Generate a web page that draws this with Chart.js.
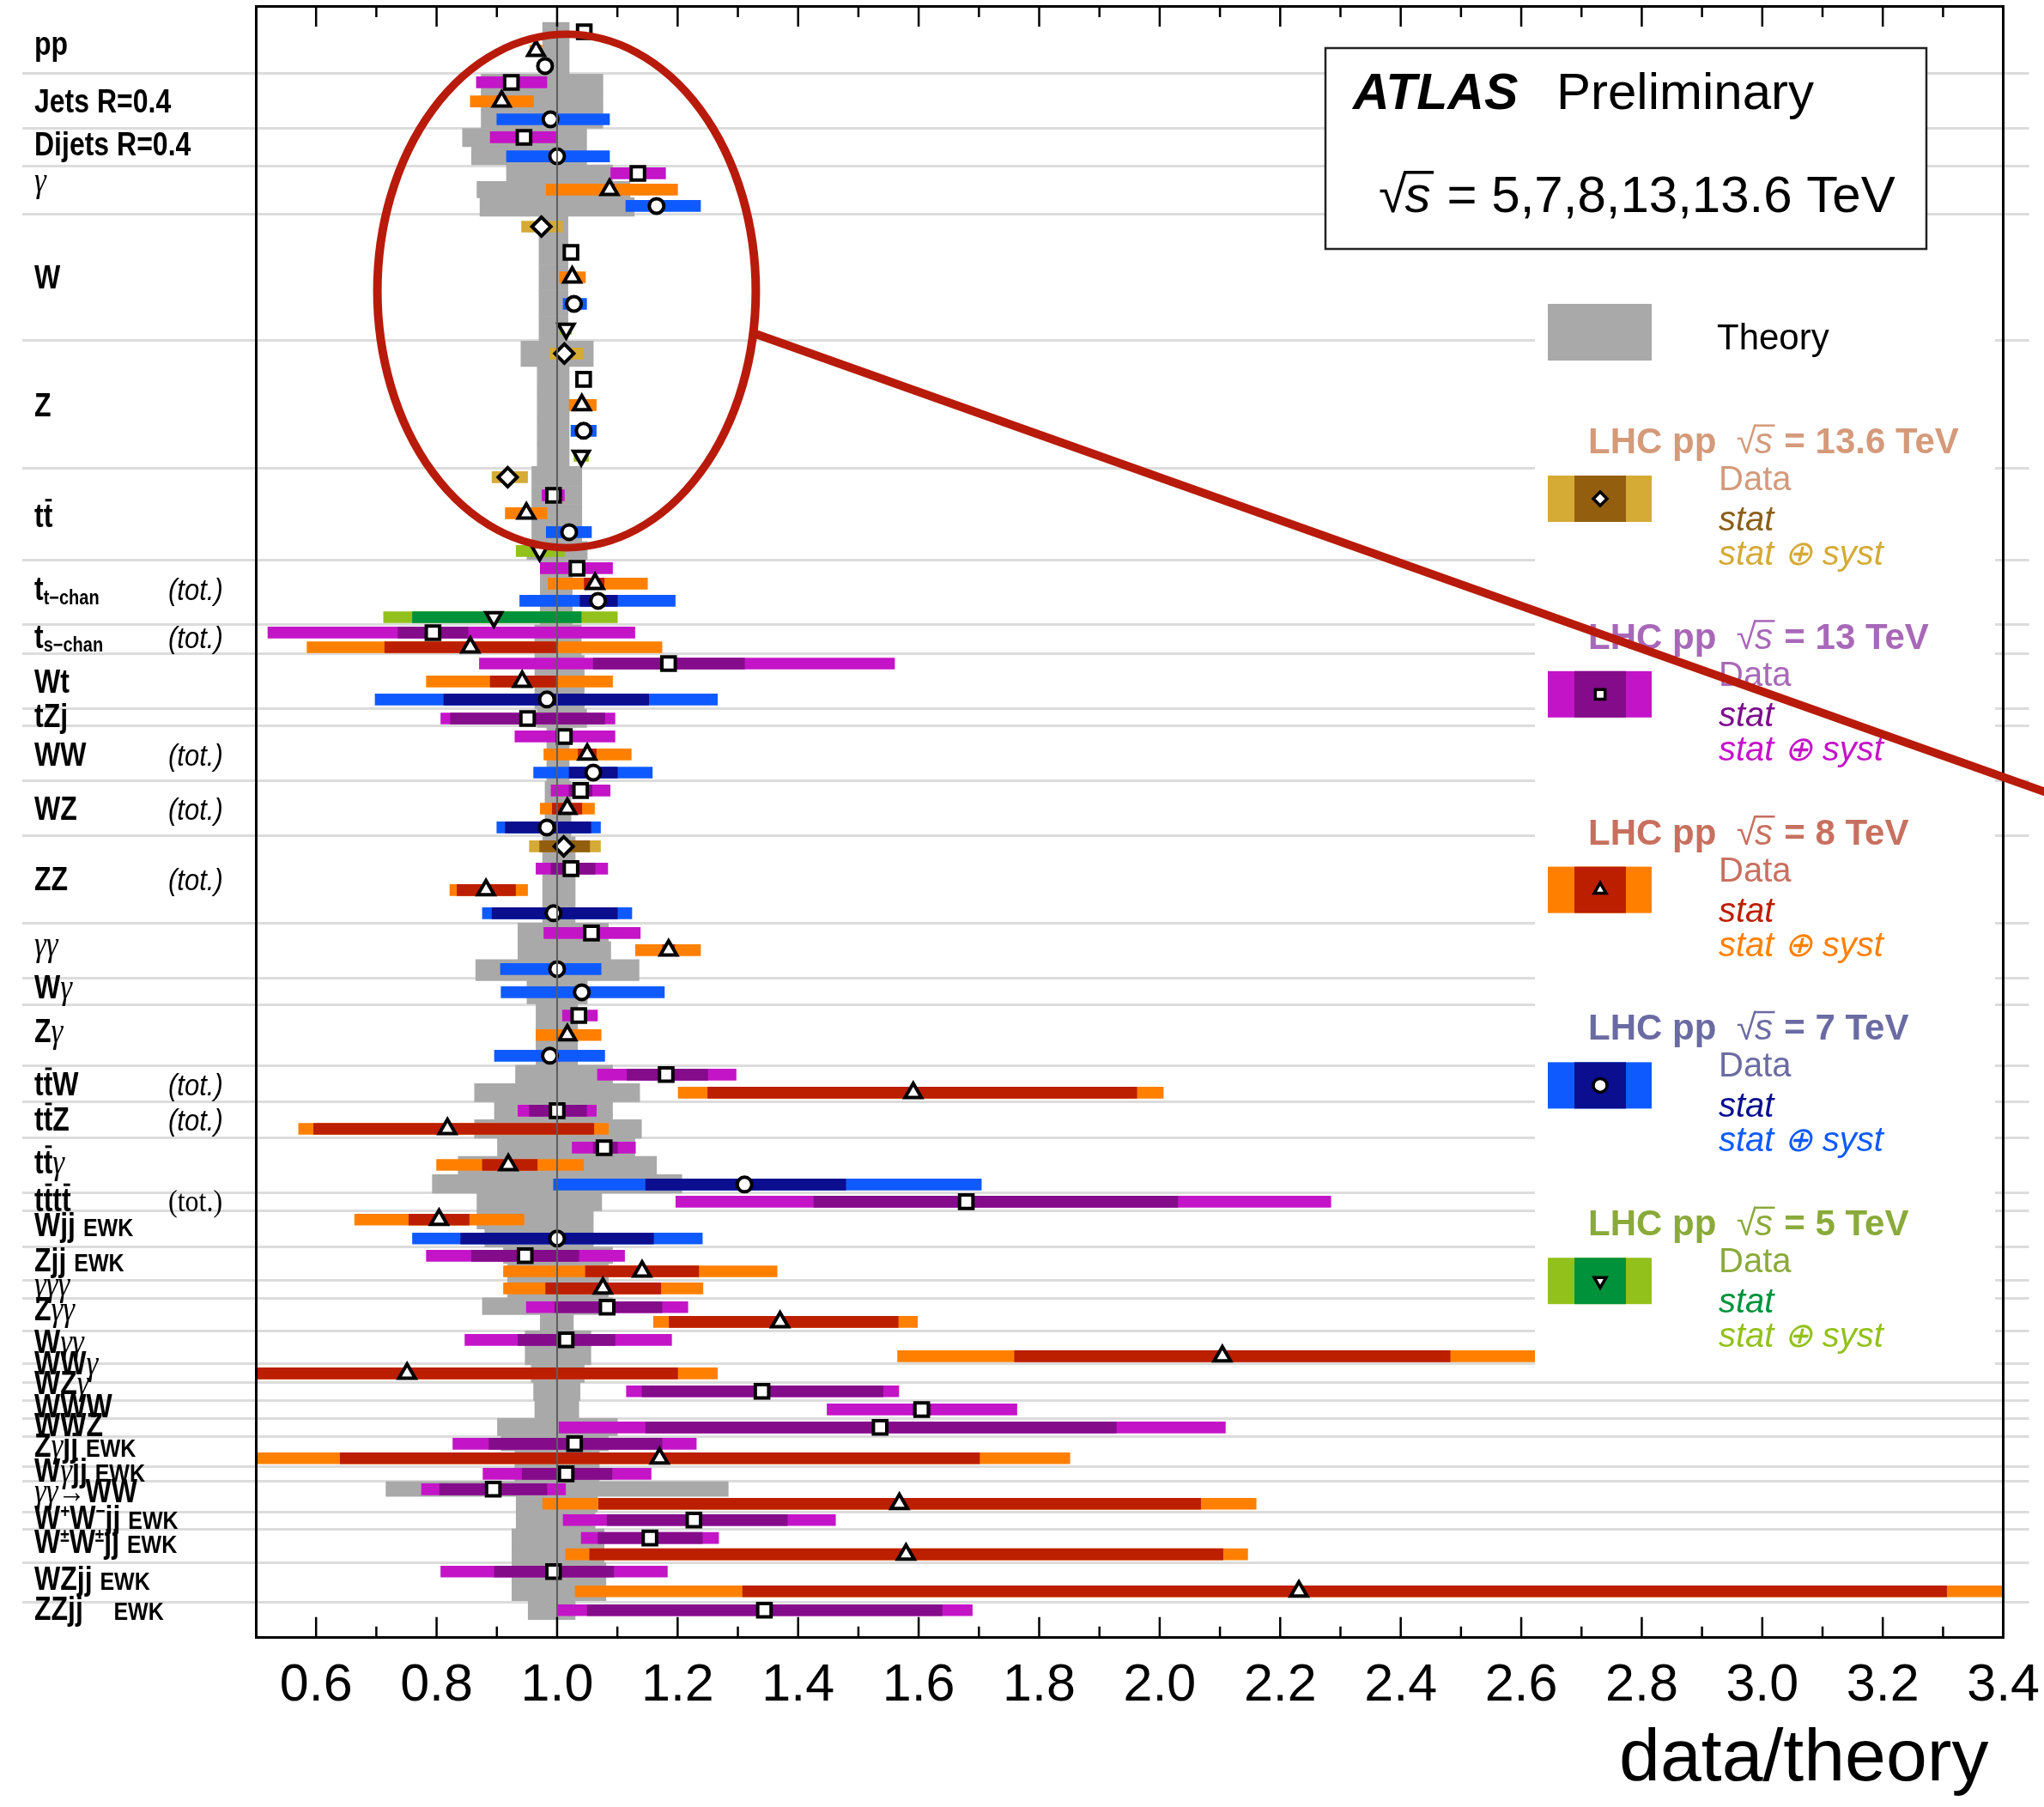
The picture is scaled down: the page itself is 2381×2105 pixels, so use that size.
<!DOCTYPE html>
<html>
<head>
<meta charset="utf-8">
<title>data/theory</title>
<script src="https://cdn.jsdelivr.net/npm/chart.js"></script>
<style>
  html, body { margin: 0; padding: 0; background: #fff; }
</style>
</head>
<body>
<canvas id="summary" width="2381" height="2105"></canvas>
<script>
// vertical position of every measurement row, in row units (0 = top frame, 90 = bottom frame)
const rowY = [
  1.42, 2.46, 3.31, 4.21, 5.26, 6.25, 7.24, 8.29, 9.23, 10.13, 11.03,
  12.17, 13.59, 14.96, 16.43, 17.80,
  19.17, 20.59, 22.01, 23.43, 24.81,
  25.99, 26.99, 27.98, 29.02, 30.06,
  31.01, 31.86, 32.81, 33.71,
  34.56, 35.37,
  36.27, 37.26, 38.25,
  39.30,
  40.29, 41.28, 42.28,
  43.27, 44.27, 45.31,
  46.35, 47.58, 48.76, 50.04,
  51.13, 52.08, 53.12,
  54.40,
  55.68, 56.76, 57.90,
  58.94, 59.94,
  60.93, 61.93,
  62.97, 63.92, 65.00,
  65.95,
  66.94, 67.98,
  68.93, 69.79,
  70.73,
  71.77, 72.58,
  73.57, 74.47,
  75.42,
  76.41,
  77.41,
  78.40,
  79.30, 80.10,
  80.96,
  81.81, 82.61,
  83.51,
  84.50, 85.40,
  86.35, 87.44,
  88.48
];

// theory uncertainty band for each row (data/theory = 1 is the prediction)
const theoryBand = [
  [0.976, 1.02], [0.976, 1.02], [0.976, 1.02],
  [0.874, 1.076], [0.874, 1.076], [0.874, 1.076],
  [0.843, 1.049], [0.858, 1.049],
  [0.916, 1.092], [0.867, 1.121], [0.872, 1.128],
  [0.97, 1.018], [0.97, 1.018], [0.97, 1.018], [0.97, 1.018], [0.97, 1.018],
  [0.94, 1.06], [0.967, 1.02], [0.967, 1.02], [0.967, 1.02], [0.967, 1.02],
  [0.958, 1.041], [0.958, 1.041], [0.958, 1.041], [0.958, 1.041], [0.95, 1.05],
  [0.972, 1.025], [0.972, 1.025], [0.972, 1.025], [0.972, 1.025],
  [0.963, 1.04], [0.963, 1.04],
  [0.963, 1.045], [0.963, 1.045], [0.963, 1.045],
  [0.967, 1.049],
  [0.983, 1.02], [0.983, 1.02], [0.983, 1.02],
  [0.98, 1.023], [0.98, 1.023], [0.98, 1.023],
  [0.976, 1.03], [0.976, 1.03], [0.976, 1.03], [0.976, 1.03],
  [0.935, 1.085], [0.935, 1.089], [0.865, 1.136],
  [0.95, 1.05],
  [0.965, 1.034], [0.965, 1.034], [0.965, 1.034],
  [0.931, 1.092], [0.863, 1.137],
  [0.896, 1.092], [0.863, 1.14],
  [0.901, 1.129], [0.836, 1.165], [0.793, 1.207],
  [0.867, 1.074],
  [0.867, 1.06], [0.88, 1.06],
  [0.911, 1.092], [0.918, 1.085],
  [0.918, 1.085],
  [0.876, 1.092], [0.972, 1.027],
  [0.947, 1.056], [0.947, 1.056],
  [0.957, 1.045],
  [0.961, 1.038],
  [0.963, 1.036],
  [0.901, 1.1],
  [0.907, 1.085], [0.93, 1.07],
  [0.93, 1.07],
  [0.716, 1.284], [0.932, 1.067],
  [0.932, 1.063],
  [0.925, 1.078], [0.925, 1.078],
  [0.925, 1.081], [0.925, 1.081],
  [0.952, 1.03]
];

// lines between the processes
const separators = [
  3.74, 6.77, 8.81, 11.50, 18.46, 25.52, 30.58, 34.13, 35.73, 38.77, 39.72,
  42.75, 45.77, 50.61, 53.64, 55.11, 58.45, 60.46, 62.45, 65.48, 66.47, 68.46,
  70.29, 71.28, 73.10, 74.90, 75.94, 76.94, 77.91, 78.91, 80.54, 81.39, 83.09,
  84.04, 85.88, 88.06
];

// process names, with the row position of their baseline
const processLabels = [
  ['pp', 2.68], ['Jets R=0.4', 5.87], ['Dijets R=0.4', 8.24], ['#gamma', 10.23],
  ['W', 15.58], ['Z', 22.63], ['t#bar{t}', 28.72],
  ['t_{t\u2212chan}', 32.76, '(tot.)'], ['t_{s\u2212chan}', 35.40, '(tot.)'],
  ['Wt', 37.88], ['tZj', 39.75], ['WW', 41.90, '(tot.)'], ['WZ', 44.87, '(tot.)'],
  ['ZZ', 48.77, '(tot.)'], ['#gamma#gamma', 52.36], ['W#gamma', 54.73], ['Z#gamma', 57.15],
  ['t#bar{t}W', 60.08, '(tot.)'], ['t#bar{t}Z', 62.02, '(tot.)'], ['t#bar{t}#gamma', 64.38],
  ['t#bar{t}t#bar{t}', 66.48, '(tot.)', 'serif'],
  ['Wjj #small{EWK}', 67.87], ['Zjj #small{EWK}', 69.77], ['#gamma#gamma#gamma', 71.11],
  ['Z#gamma#gamma', 72.48], ['W#gamma#gamma', 74.27], ['WW#gamma', 75.47], ['WZ#gamma', 76.56],
  ['WWW', 77.84], ['WWZ', 78.88], ['Z#gammajj #small{EWK}', 80.02], ['W#gammajj #small{EWK}', 81.39],
  ['#gamma#gamma#rightarrowWW', 82.52], ['W^{+}W^{\u2212}jj #small{EWK}', 83.99],
  ['W^{\u00b1}W^{\u00b1}jj #small{EWK}', 85.32], ['WZjj #small{EWK}', 87.36], ['ZZjj    #small{EWK}', 89.01]
];

// sqrt(s) = 13.6 TeV
const rows136 = [11, 16, 21, 42];
const val136 = [0.974, 1.012, 0.918, 1.011];
const stat136 = [[0.969, 0.979], [1.006, 1.018], [0.913, 0.923], [0.971, 1.054]];
const tot136 = [[0.941, 1.009], [0.988, 1.044], [0.892, 0.951], [0.954, 1.072]];

// sqrt(s) = 13 TeV
const rows13 = [0, 3, 6, 8, 12, 17, 22, 26, 30, 32, 35, 36, 39, 43, 46, 50, 53, 55, 57, 60,
  63, 66, 68, 71, 72, 73, 74, 76, 77, 79, 80, 82, 84];
const val13 = [1.045, 0.924, 0.945, 1.134, 1.023, 1.044, 0.994, 1.033, 0.794, 1.185, 0.951,
  1.012, 1.039, 1.023, 1.057, 1.036, 1.181, 1.0, 1.078, 1.679, 0.947, 1.083, 1.015, 1.34,
  1.605, 1.536, 1.029, 1.015, 0.894, 1.227, 1.154, 0.994, 1.344];
const stat13 = [[1.04, 1.05], [0.92, 0.93], [0.94, 0.95], [1.13, 1.138], [1.02, 1.026],
  [1.04, 1.048], [0.99, 0.998], [1.02, 1.045], [0.736, 0.852], [1.06, 1.311], [0.823, 1.079],
  [1.0, 1.025], [1.02, 1.058], [0.99, 1.063], [1.045, 1.07], [1.03, 1.042], [1.116, 1.25],
  [0.954, 1.049], [1.06, 1.1], [1.426, 2.03], [0.858, 1.036], [0.996, 1.174], [0.935, 1.096],
  [1.141, 1.541], [1.59, 1.62], [1.147, 1.928], [0.887, 1.174], [0.942, 1.091], [0.805, 0.983],
  [1.083, 1.382], [1.068, 1.241], [0.896, 1.094], [1.05, 1.639]];
const tot13 = [[1.035, 1.055], [0.866, 0.983], [0.889, 0.998], [1.089, 1.18], [1.013, 1.033],
  [1.034, 1.054], [0.975, 1.012], [0.972, 1.092], [0.52, 1.129], [0.871, 1.56], [0.807, 1.096],
  [0.93, 1.096], [0.99, 1.088], [0.965, 1.084], [0.978, 1.138], [1.009, 1.067], [1.067, 1.297],
  [0.935, 1.065], [1.025, 1.13], [1.197, 2.284], [0.783, 1.112], [0.949, 1.217], [0.847, 1.19],
  [1.115, 1.567], [1.448, 1.763], [1.003, 2.109], [0.827, 1.231], [0.877, 1.156], [0.775, 1.014],
  [1.01, 1.462], [1.04, 1.268], [0.807, 1.183], [1.001, 1.689]];

// sqrt(s) = 8 TeV
const rows8 = [1, 4, 9, 13, 18, 23, 27, 31, 33, 37, 40, 44, 47, 51, 54, 56, 58, 61, 64, 65,
  67, 69, 70, 75, 78, 81, 83];
const val8 = [0.965, 0.908, 1.087, 1.025, 1.041, 0.949, 1.063, 0.856, 0.942, 1.05, 1.017,
  0.882, 1.185, 1.017, 1.591, 0.818, 0.919, 0.804, 1.141, 1.076, 1.37, 2.104, 0.751, 1.17,
  1.568, 1.579, 2.231];
const stat8 = [[0.96, 0.97], [0.9, 0.915], [1.08, 1.095], [1.02, 1.03], [1.036, 1.046],
  [0.945, 0.953], [1.045, 1.078], [0.714, 1.0], [0.889, 0.998], [1.035, 1.065], [0.992, 1.041],
  [0.834, 0.931], [1.175, 1.195], [1.01, 1.024], [1.25, 1.962], [0.596, 1.061], [0.876, 0.967],
  [0.754, 0.854], [1.047, 1.235], [0.981, 1.172], [1.186, 1.566], [1.759, 2.482], [0.3, 1.2],
  [0.64, 1.701], [1.069, 2.068], [1.054, 2.105], [1.308, 3.306]];
const tot8 = [[0.955, 0.975], [0.856, 0.961], [0.982, 1.2], [1.004, 1.047], [1.02, 1.065],
  [0.914, 0.983], [0.985, 1.15], [0.585, 1.174], [0.783, 1.092], [0.978, 1.123], [0.972, 1.062],
  [0.822, 0.951], [1.13, 1.238], [0.965, 1.073], [1.201, 2.006], [0.571, 1.085], [0.8, 1.044],
  [0.664, 0.945], [0.911, 1.365], [0.911, 1.242], [1.16, 1.598], [1.565, 2.7], [0.2, 1.266],
  [0.45, 1.851], [0.976, 2.16], [1.014, 2.146], [1.03, 3.6]];

// sqrt(s) = 7 TeV
const rows7 = [2, 5, 7, 10, 14, 19, 24, 28, 34, 38, 41, 45, 48, 49, 52, 59, 62];
const val7 = [0.98, 0.989, 1.0, 1.165, 1.028, 1.044, 1.02, 1.068, 0.983, 1.06, 0.983, 0.994,
  1.0, 1.041, 0.988, 1.311, 1.0];
const stat7 = [[0.975, 0.985], [0.985, 0.993], [0.996, 1.004], [1.16, 1.17], [1.024, 1.032],
  [1.04, 1.048], [1.015, 1.025], [1.038, 1.1], [0.812, 1.152], [1.02, 1.1], [0.914, 1.056],
  [0.892, 1.1], [0.995, 1.005], [1.035, 1.047], [0.983, 0.993], [1.147, 1.479], [0.84, 1.16]];
const tot7 = [[0.97, 0.99], [0.9, 1.087], [0.916, 1.087], [1.114, 1.238], [1.01, 1.049],
  [1.023, 1.065], [0.982, 1.057], [0.938, 1.196], [0.698, 1.266], [0.961, 1.158], [0.9, 1.072],
  [0.876, 1.124], [0.906, 1.073], [0.907, 1.178], [0.896, 1.079], [0.994, 1.704], [0.76, 1.241]];

// sqrt(s) = 5 TeV
const rows5 = [15, 20, 25, 29];
const val5 = [1.015, 1.04, 0.971, 0.895];
const stat5 = [[1.012, 1.018], [1.036, 1.044], [0.965, 0.977], [0.76, 1.04]];
const tot5 = [[1.005, 1.024], [1.028, 1.052], [0.932, 1.012], [0.712, 1.1]];

const energies = [
  { name: '13.6', rows: rows136, val: val136, stat: stat136, tot: tot136,
    syst: '#d5aa35', statC: '#935f0f', text: '#d49a7a', statText: '#8b5e17', point: 'rectRot', rot: 0, r: 11 },
  { name: '13', rows: rows13, val: val13, stat: stat13, tot: tot13,
    syst: '#c414c8', statC: '#840c8a', text: '#a868b8', statText: '#7c0c8c', point: 'rect', rot: 0, r: 11 },
  { name: '8', rows: rows8, val: val8, stat: stat8, tot: tot8,
    syst: '#ff8000', statC: '#bc1e00', text: '#c8705f', statText: '#bc1e00', point: 'triangle', rot: 0, r: 11 },
  { name: '7', rows: rows7, val: val7, stat: stat7, tot: tot7,
    syst: '#0f5aff', statC: '#0a0e8f', text: '#6b6ba3', statText: '#0a0e8f', point: 'circle', rot: 0, r: 8.5 },
  { name: '5', rows: rows5, val: val5, stat: stat5, tot: tot5,
    syst: '#93c11b', statC: '#00923a', text: '#8aaa3a', statText: '#00923a', point: 'triangle', rot: 180, r: 10.5 }
];

const SANS = '"Liberation Sans", Arial, sans-serif';
const SERIF = '"Liberation Serif", "Times New Roman", serif';

const datasets = [];
// data/theory = 1 reference line
datasets.push({
  type: 'line', data: [{ x: 1, y: 0 }, { x: 1, y: 90 }],
  borderColor: '#5e5e5e', borderWidth: 2, pointRadius: 0, order: -1
});
// theory bands, one step per row
datasets.push({
  type: 'bar', data: rowY.map((y, i) => ({ y: y, x: theoryBand[i] })),
  backgroundColor: '#a9a9a9', grouped: true, barThickness: 'flex',
  categoryPercentage: 1, barPercentage: 1, order: 100
});
energies.forEach(e => {
  datasets.push({
    type: 'bar', data: e.rows.map((r, i) => ({ y: rowY[r], x: e.tot[i] })),
    backgroundColor: e.syst, grouped: false, barThickness: 13, order: 20
  });
  datasets.push({
    type: 'bar', data: e.rows.map((r, i) => ({ y: rowY[r], x: e.stat[i] })),
    backgroundColor: e.statC, grouped: false, barThickness: 13, order: 10
  });
  datasets.push({
    type: 'scatter', data: e.rows.map((r, i) => ({ y: rowY[r], x: e.val[i] })),
    pointStyle: e.point, pointRotation: e.rot, pointRadius: e.r,
    pointBackgroundColor: '#fff', pointBorderColor: '#000', pointBorderWidth: 4, order: 0
  });
});

function parseLabel(s) {
  const segs = [];
  const re = /#gamma|#rightarrow|#bar\{([^}]*)\}|_\{([^}]*)\}|\^\{([^}]*)\}|#small\{([^}]*)\}|([^#_^]+)/g;
  let m;
  while ((m = re.exec(s))) {
    if (m[0] === '#gamma') segs.push({ t: '\u03b3', k: 'gam' });
    else if (m[0] === '#rightarrow') segs.push({ t: '\u2192', k: 'n' });
    else if (m[1] !== undefined) segs.push({ t: m[1], k: 'bar' });
    else if (m[2] !== undefined) segs.push({ t: m[2], k: 'sub' });
    else if (m[3] !== undefined) segs.push({ t: m[3], k: 'sup' });
    else if (m[4] !== undefined) segs.push({ t: m[4], k: 'small' });
    else segs.push({ t: m[5], k: 'n' });
  }
  return segs;
}

// labels are drawn a little taller than wide, like the original lettering
function drawLabel(ctx, str, x, y) {
  ctx.save();
  ctx.translate(x, y);
  ctx.scale(1, 1.2);
  let cx = 0;
  for (const seg of parseLabel(str)) {
    let font = 'bold 32px ' + SANS, dy = 0;
    if (seg.k === 'gam') font = 'italic 35px ' + SERIF;
    if (seg.k === 'sub') { font = 'bold 20px ' + SANS; dy = 4; }
    if (seg.k === 'sup') { font = 'bold 19px ' + SANS; dy = -11; }
    if (seg.k === 'small') font = 'bold 25px ' + SANS;
    ctx.font = font;
    ctx.fillText(seg.t, cx, dy);
    const w = ctx.measureText(seg.t).width;
    if (seg.k === 'bar') ctx.fillRect(cx + 2, -27, w - 3, 2.5);
    cx += w;
  }
  ctx.restore();
}

// text with a sqrt(s) in it: parts are [text, font] or ['ROOT', size]
function drawRich(ctx, x, y, parts) {
  let cx = x;
  parts.forEach(p => {
    if (p[0] === 'ROOT') {
      const size = p[1];
      ctx.font = size + 'px ' + SANS;
      ctx.fillText('\u221a', cx, y);
      const w = ctx.measureText('\u221a').width;
      ctx.font = 'italic ' + size + 'px ' + SANS;
      ctx.fillText('s', cx + w - size * 0.04, y);
      const ws = ctx.measureText('s').width;
      ctx.fillRect(cx + w - size * 0.06, y - size * 0.8, ws + size * 0.08, size * 0.06);
      cx += w + ws;
    } else {
      ctx.font = p[1];
      ctx.fillText(p[0], cx, y);
      cx += ctx.measureText(p[0]).width;
    }
  });
  return cx - x;
}

const overlay = {
  id: 'overlay',
  afterDatasetsDraw(chart) {
    const ctx = chart.ctx;
    ctx.save();
    ctx.textBaseline = 'alphabetic';
    ctx.textAlign = 'left';

    // legend panel hides the separator lines behind it
    ctx.fillStyle = '#fff';
    ctx.fillRect(1788, 300, 536, 1300);

    // ATLAS box
    ctx.fillRect(1544, 56, 700, 234);
    ctx.strokeStyle = '#222';
    ctx.lineWidth = 2.5;
    ctx.strokeRect(1544, 56, 700, 234);
    ctx.fillStyle = '#000';
    ctx.font = 'bold italic 59px ' + SANS;
    ctx.fillText('ATLAS', 1576, 127);
    ctx.font = '60px ' + SANS;
    ctx.fillText('Preliminary', 1813, 127);
    drawRich(ctx, 1606, 247, [['ROOT', 60], [' = 5,7,8,13,13.6 TeV', '60px ' + SANS]]);

    // theory entry
    ctx.fillStyle = '#a9a9a9';
    ctx.fillRect(1803, 354, 121, 66);
    ctx.fillStyle = '#000';
    ctx.font = '42px ' + SANS;
    ctx.fillText('Theory', 2000, 407);

    energies.forEach((e, i) => {
      const ty = 528 + i * 227.8;
      ctx.fillStyle = e.text;
      drawRich(ctx, 1850, ty, [
        ['LHC pp  ', 'bold 42px ' + SANS], ['ROOT', 42], [' = ' + e.name + ' TeV', 'bold 42px ' + SANS]
      ]);
      ctx.fillStyle = e.syst;
      ctx.fillRect(1803, ty + 26, 121, 54);
      ctx.fillStyle = e.statC;
      ctx.fillRect(1834, ty + 26, 60, 54);
      if (Chart.helpers && Chart.helpers.drawPoint) {
        ctx.fillStyle = '#fff';
        ctx.strokeStyle = '#000';
        ctx.lineWidth = 3.5;
        Chart.helpers.drawPoint(ctx, { pointStyle: e.point, rotation: e.rot, radius: 8, borderWidth: 3.5 }, 1864, ty + 53);
      }
      ctx.font = '40px ' + SANS;
      ctx.fillStyle = e.text;
      ctx.fillText('Data', 2002, ty + 43);
      ctx.font = 'italic 40px ' + SANS;
      ctx.fillStyle = e.statText;
      ctx.fillText('stat', 2002, ty + 90);
      ctx.fillStyle = e.syst;
      ctx.fillText('stat \u2295 syst', 2002, ty + 130);
    });
    ctx.restore();
  },
  afterDraw(chart) {
    const ctx = chart.ctx;
    const xs = chart.scales.x;
    const ys = chart.scales.y;
    const area = chart.chartArea;
    ctx.save();

    // inward tick marks on top and bottom frame
    ctx.strokeStyle = '#000';
    ctx.lineWidth = 2.5;
    xs.ticks.forEach(t => {
      const px = xs.getPixelForValue(t.value);
      if (px <= area.left + 1 || px >= area.right - 1) return;
      const len = t.label ? 24 : 13;
      ctx.beginPath();
      ctx.moveTo(px, area.bottom);
      ctx.lineTo(px, area.bottom - len);
      ctx.moveTo(px, area.top);
      ctx.lineTo(px, area.top + len);
      ctx.stroke();
    });

    // process names
    ctx.fillStyle = '#000';
    ctx.textBaseline = 'alphabetic';
    ctx.textAlign = 'left';
    processLabels.forEach(l => {
      const y = ys.getPixelForValue(l[1]);
      drawLabel(ctx, l[0], 40, y);
      if (l[2]) {
        ctx.save();
        ctx.translate(196, y);
        ctx.scale(1, 1.15);
        ctx.font = l[3] === 'serif' ? '32px ' + SERIF : 'italic 31px ' + SANS;
        ctx.fillText(l[2], 0, 0);
        ctx.restore();
      }
    });

    // hand drawn red highlight, a few close strokes give it the marker-pen look
    const cx = xs.getPixelForValue(1.0157), cy = ys.getPixelForValue(15.72);
    const rx = xs.getPixelForValue(1.0157 + 0.314) - cx;
    const ry = ys.getPixelForValue(15.72 + 14.16) - cy;
    ctx.strokeStyle = '#b81b0b';
    ctx.lineCap = 'round';
    [[-3, 4], [0, 5], [3, 4]].forEach(([d, w]) => {
      ctx.lineWidth = w;
      ctx.beginPath();
      ctx.ellipse(cx, cy, rx + d, ry + d * 0.8, 0, 0, Math.PI * 2);
      ctx.stroke();
    });
    const lx1 = xs.getPixelForValue(1.3255), ly1 = ys.getPixelForValue(18.04);
    const lx2 = xs.getPixelForValue(3.4665), ly2 = ys.getPixelForValue(43.32);
    [[-3, 4], [0, 5], [3, 4]].forEach(([d, w]) => {
      ctx.lineWidth = w;
      ctx.beginPath();
      ctx.moveTo(lx1, ly1 + d);
      ctx.lineTo(lx2, ly2 + d);
      ctx.stroke();
    });
    ctx.restore();
  }
};

const frame = { display: true, color: '#000', width: 3, z: 1 };

new Chart(document.getElementById('summary'), {
  type: 'bar',
  data: { datasets: datasets },
  options: {
    indexAxis: 'y',
    responsive: false,
    animation: false,
    devicePixelRatio: 1,
    layout: { autoPadding: false, padding: { left: 26, right: 0, top: 7, bottom: 25 } },
    plugins: { legend: { display: false }, tooltip: { enabled: false } },
    scales: {
      x: {
        type: 'linear', position: 'bottom', min: 0.5, max: 3.4, beginAtZero: false,
        grid: { display: false, drawTicks: false },
        border: frame,
        ticks: {
          stepSize: 0.1, autoSkip: false, maxRotation: 0, minRotation: 0, padding: 5, color: '#000',
          font: { family: SANS, size: 61, lineHeight: 1.672 },
          callback: v => (Math.round(v * 10) % 2 === 0 ? v.toFixed(1) : '')
        },
        title: {
          display: true, text: 'data/theory\u2009', align: 'end', color: '#000', padding: 0,
          font: { family: SANS, size: 86, lineHeight: 0.7 }
        }
      },
      x2: {
        type: 'linear', position: 'top', min: 0.5, max: 3.4, beginAtZero: false,
        grid: { display: false, drawTicks: false },
        border: frame,
        ticks: { display: false }
      },
      y: {
        type: 'linear', position: 'left', reverse: true, min: 0, max: 90, offset: false,
        grid: { color: '#dcdcdc', lineWidth: 3, tickLength: 272, drawTicks: true, offset: false },
        border: frame,
        ticks: { display: false },
        afterBuildTicks: s => { s.ticks = separators.map(v => ({ value: v })); }
      },
      y2: {
        type: 'linear', position: 'right', reverse: true, min: 0, max: 90, offset: false,
        grid: { color: '#dcdcdc', lineWidth: 3, tickLength: 30, drawTicks: true, offset: false },
        border: frame,
        ticks: { display: false },
        afterBuildTicks: s => { s.ticks = separators.map(v => ({ value: v })); }
      }
    }
  },
  plugins: [overlay]
});
</script>
</body>
</html>
